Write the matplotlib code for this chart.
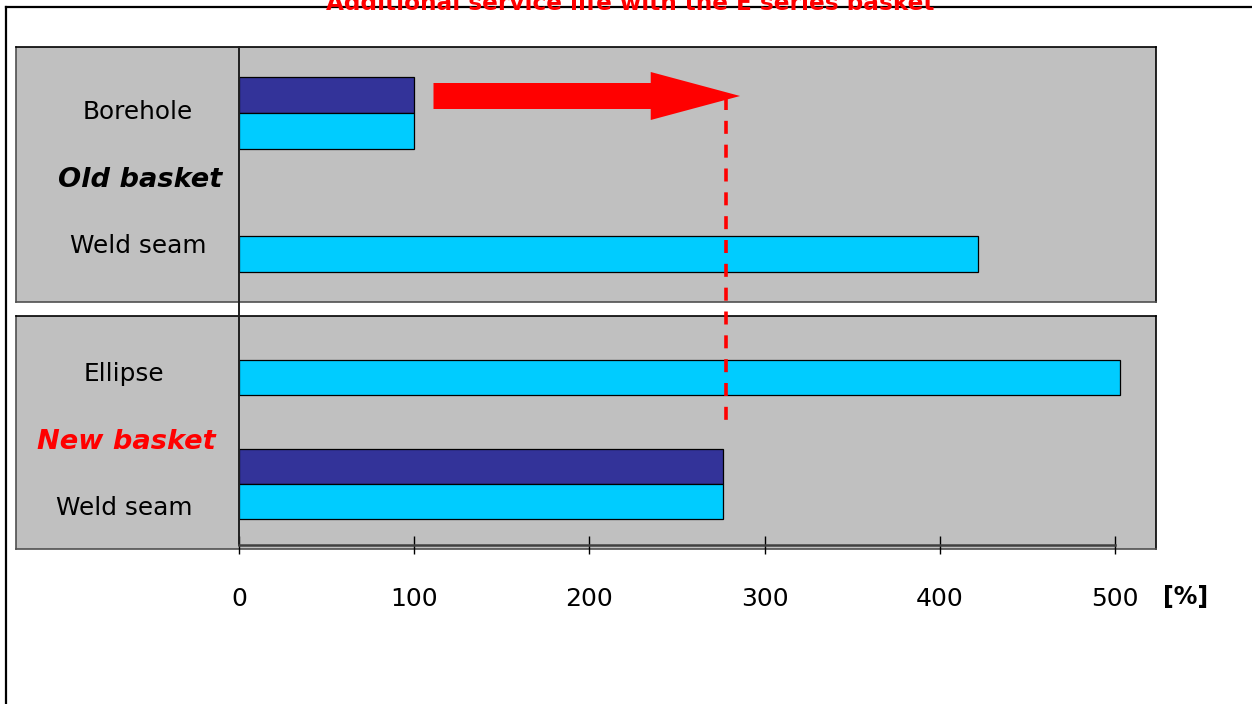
import matplotlib
matplotlib.use('Agg')
import matplotlib.pyplot as plt
from matplotlib.patches import FancyArrow
from matplotlib.lines import Line2D
import numpy as np

# ---------------- data ----------------
title = "Additional service life with the E series basket"
old_categories = ["Borehole", "Weld seam"]
old_dark = [100, 0]
old_cyan = [100, 422]
new_categories = ["Ellipse", "Weld seam"]
new_dark = [0, 276]
new_cyan = [503, 276]
group_labels = ["Old basket", "New basket"]
tick_values = [0, 100, 200, 300, 400, 500]
unit_label = "[%]"
arrow_start, arrow_end = 111, 286
reference_value = 278

# ---------------- style ----------------
W, H = 1252, 704
DARK = '#333399'
CYAN = '#00CCFF'
GRAY = '#C0C0C0'
RED = '#FF0000'
plt.rcParams['font.family'] = ['DejaVu Sans']
XLIM = (-127.3, 523.4)

fig = plt.figure(figsize=(W / 100, H / 100), dpi=100)


def panel(rect_px, ylim, cats, dark, cyan, bar_h, label_y, group, group_y, group_color, label_x):
    x0, y0, x1, y1 = rect_px
    ax = fig.add_axes([x0 / W, 1 - y1 / H, (x1 - x0) / W, (y1 - y0) / H])
    ax.set_facecolor(GRAY)
    ax.set_xlim(*XLIM)
    ax.set_ylim(*ylim)
    pos = np.arange(len(cats))
    for p, d, c in zip(pos, dark, cyan):
        if d:
            ax.barh(p - bar_h / 2, d, height=bar_h, color=DARK, edgecolor='black', linewidth=0.9)
        if c:
            ax.barh(p + bar_h / 2, c, height=bar_h, color=CYAN, edgecolor='black', linewidth=0.9)
    tr = ax.get_yaxis_transform()
    for cat, ly in zip(cats, label_y):
        ax.text(label_x, ly, cat, transform=tr, ha='center', va='baseline', fontsize=17.8)
    ax.text(label_x + 0.002, group_y, group, transform=tr, ha='center', va='baseline',
            fontsize=19.6, fontweight='bold', fontstyle='italic', color=group_color)
    ax.set_xticks([])
    ax.set_yticks([])
    for s in ['top', 'right']:
        ax.spines[s].set_color('black')
        ax.spines[s].set_linewidth(1.2)
    for s in ['left', 'bottom']:
        ax.spines[s].set_color('#505050')
        ax.spines[s].set_linewidth(1.2)
    return ax


ax1 = panel((16, 47, 1156, 302), (1.537, -0.537), old_categories, old_dark, old_cyan, 0.289,
            [0.049, 1.138], group_labels[0], 0.602, 'black', 0.107)
ax2 = panel((16, 316, 1156, 549), (1.524, -0.355), new_categories, new_dark, new_cyan, 0.286,
            [0.169, 1.25], group_labels[1], 0.718, RED, 0.095)

# ---------------- overlay axis (value axis, arrow, reference line) ----------------
ov = fig.add_axes([16 / W, 1 - 545 / H, 1140 / W, 498 / H])
ov.set_facecolor('none')
ov.set_xlim(*XLIM)
ov.set_ylim(545, 47)
for s in ['top', 'right']:
    ov.spines[s].set_visible(False)
ov.spines['left'].set_position(('data', 0))
ov.spines['left'].set_color('#202020')
ov.spines['left'].set_linewidth(1.4)
ov.spines['bottom'].set_bounds(tick_values[0], tick_values[-1])
ov.spines['bottom'].set_color('#404040')
ov.spines['bottom'].set_linewidth(1.8)
ov.set_yticks([])
ov.set_xticks(tick_values)
ov.set_xticklabels([str(v) for v in tick_values], fontsize=18)
ov.tick_params(axis='x', direction='inout', length=13, width=1, color='black', pad=23.5)

ov.plot([reference_value, reference_value], [97, 430], color=RED, lw=2.6, dashes=(3.6, 3.0))
ov.add_patch(FancyArrow(arrow_start, 96, arrow_end - arrow_start, 0, width=26, head_width=48,
                        head_length=51, length_includes_head=True, color=RED, lw=0))

fig.text(1186 / W, 1 - 604 / H, unit_label, ha='center', va='baseline', fontsize=17,
         fontweight='bold')

# ---------------- outer frame and title ----------------
fig.add_artist(Line2D([6 / W, 6 / W], [0, 1 - 7 / H], transform=fig.transFigure,
                      color='black', lw=1.6))
fig.add_artist(Line2D([6 / W, 1], [1 - 7 / H, 1 - 7 / H], transform=fig.transFigure,
                      color='black', lw=1.6))
fig.text(630 / W, 1 - 10 / H, title, ha='center', va='baseline', fontsize=16.7,
         fontweight='bold', color=RED, zorder=10)

fig.savefig('out.png', dpi=100)
